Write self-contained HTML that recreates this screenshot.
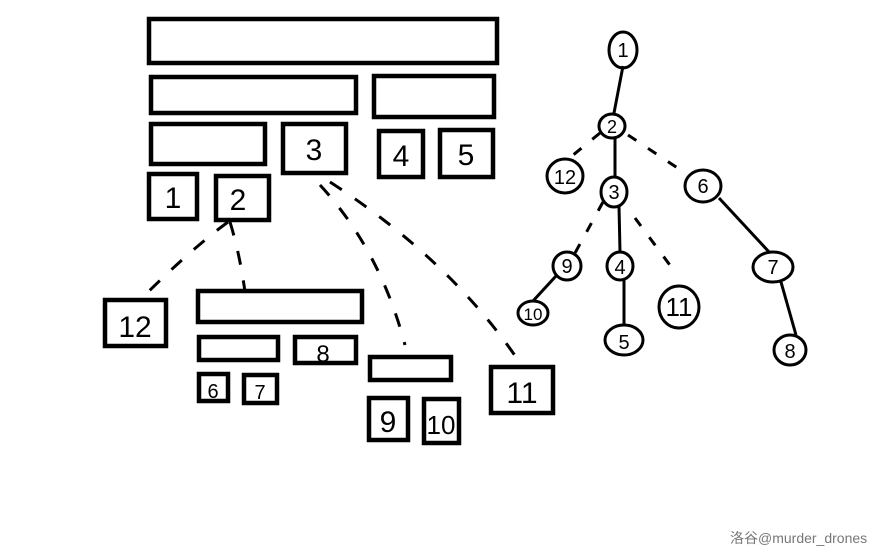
<!DOCTYPE html>
<html><head><meta charset="utf-8"><style>
html,body{margin:0;padding:0;background:#fff;width:884px;height:558px;overflow:hidden}
svg{display:block}
text{font-family:"Liberation Sans",sans-serif;fill:#000}
</style></head><body>
<svg width="884" height="558" viewBox="0 0 884 558" xmlns="http://www.w3.org/2000/svg">
<g fill="none" stroke="#000" stroke-width="4.5">
<rect x="149" y="19" width="348" height="44"/>
<rect x="151" y="77" width="205" height="36"/>
<rect x="374" y="76" width="120" height="41"/>
<rect x="151" y="124" width="114" height="40"/>
<rect x="283" y="124" width="63" height="49"/>
<rect x="379" y="131" width="44" height="46"/>
<rect x="440" y="130" width="53" height="47"/>
<rect x="149" y="174" width="48" height="45"/>
<rect x="216" y="176" width="53" height="44"/>
<rect x="105" y="300" width="61" height="46"/>
<rect x="198" y="291" width="164" height="31"/>
<rect x="199" y="337" width="79" height="23"/>
<rect x="295" y="337" width="61" height="26"/>
<rect x="199" y="374" width="29" height="27"/>
<rect x="244" y="375" width="33" height="28"/>
<rect x="370" y="357" width="81" height="23"/>
<rect x="369" y="398" width="39" height="42"/>
<rect x="424" y="399" width="35" height="44"/>
<rect x="491" y="367" width="62" height="46"/>
</g>
<g fill="none" stroke="#000" stroke-width="3" stroke-dasharray="14,16">
<path d="M228 222 Q190 250 140 300"/>
<path d="M230 222 Q240 255 245 292"/>
<path d="M320 185 Q380 250 405 345"/>
<path d="M330 182 Q450 260 518 360"/>
</g>
<g fill="none" stroke="#000" stroke-width="3">
<line x1="623" y1="66" x2="614" y2="113"/>
<line x1="615" y1="138" x2="615" y2="177"/>
<line x1="619" y1="206" x2="620" y2="252"/>
<line x1="624" y1="280" x2="624" y2="325"/>
<line x1="719" y1="198" x2="770" y2="253"/>
<line x1="781" y1="282" x2="796" y2="335"/>
<line x1="556" y1="276" x2="533" y2="301"/>
<ellipse cx="623" cy="50" rx="14" ry="18"/>
<ellipse cx="612" cy="126" rx="13" ry="12"/>
<ellipse cx="565" cy="176" rx="18" ry="17"/>
<ellipse cx="614" cy="192" rx="13" ry="15"/>
<ellipse cx="703" cy="186" rx="18" ry="16"/>
<ellipse cx="567" cy="266" rx="14" ry="14"/>
<ellipse cx="620" cy="266" rx="13" ry="14"/>
<ellipse cx="679" cy="307" rx="20" ry="21"/>
<ellipse cx="773" cy="267" rx="20" ry="15"/>
<ellipse cx="533" cy="313" rx="15" ry="12"/>
<ellipse cx="624" cy="340" rx="19" ry="15"/>
<ellipse cx="790" cy="350" rx="16" ry="15"/>
</g>
<g fill="none" stroke="#000" stroke-width="3" stroke-dasharray="10,14">
<line x1="600" y1="133" x2="567" y2="160"/>
<line x1="628" y1="135" x2="688" y2="175"/>
<line x1="603" y1="202" x2="575" y2="253"/>
<line x1="635" y1="218" x2="675" y2="272"/>
</g>
<g font-size="30" text-anchor="middle">
<text x="314" y="160">3</text>
<text x="401" y="166">4</text>
<text x="466" y="165">5</text>
<text x="173" y="208">1</text>
<text x="238" y="210">2</text>
<text x="135" y="337">12</text>
<text x="323" y="362" font-size="24">8</text>
<text x="213" y="398" font-size="20">6</text>
<text x="260" y="399" font-size="20">7</text>
<text x="388" y="432">9</text>
<text x="441" y="434" font-size="26">10</text>
<text x="522" y="403">11</text>
</g>
<g font-size="20" text-anchor="middle">
<text x="623" y="57">1</text>
<text x="612" y="133" font-size="18">2</text>
<text x="565" y="184">12</text>
<text x="614" y="199">3</text>
<text x="703" y="193">6</text>
<text x="567" y="273">9</text>
<text x="620" y="274">4</text>
<text x="679" y="316" font-size="26">11</text>
<text x="773" y="274">7</text>
<text x="533" y="320" font-size="17">10</text>
<text x="624" y="349">5</text>
<text x="790" y="358">8</text>
</g>
<text x="730" y="543" font-size="14" style="fill:#777;font-family:'Liberation Sans','Noto Sans CJK SC',sans-serif">洛谷@murder_drones</text>
</svg>
</body></html>
